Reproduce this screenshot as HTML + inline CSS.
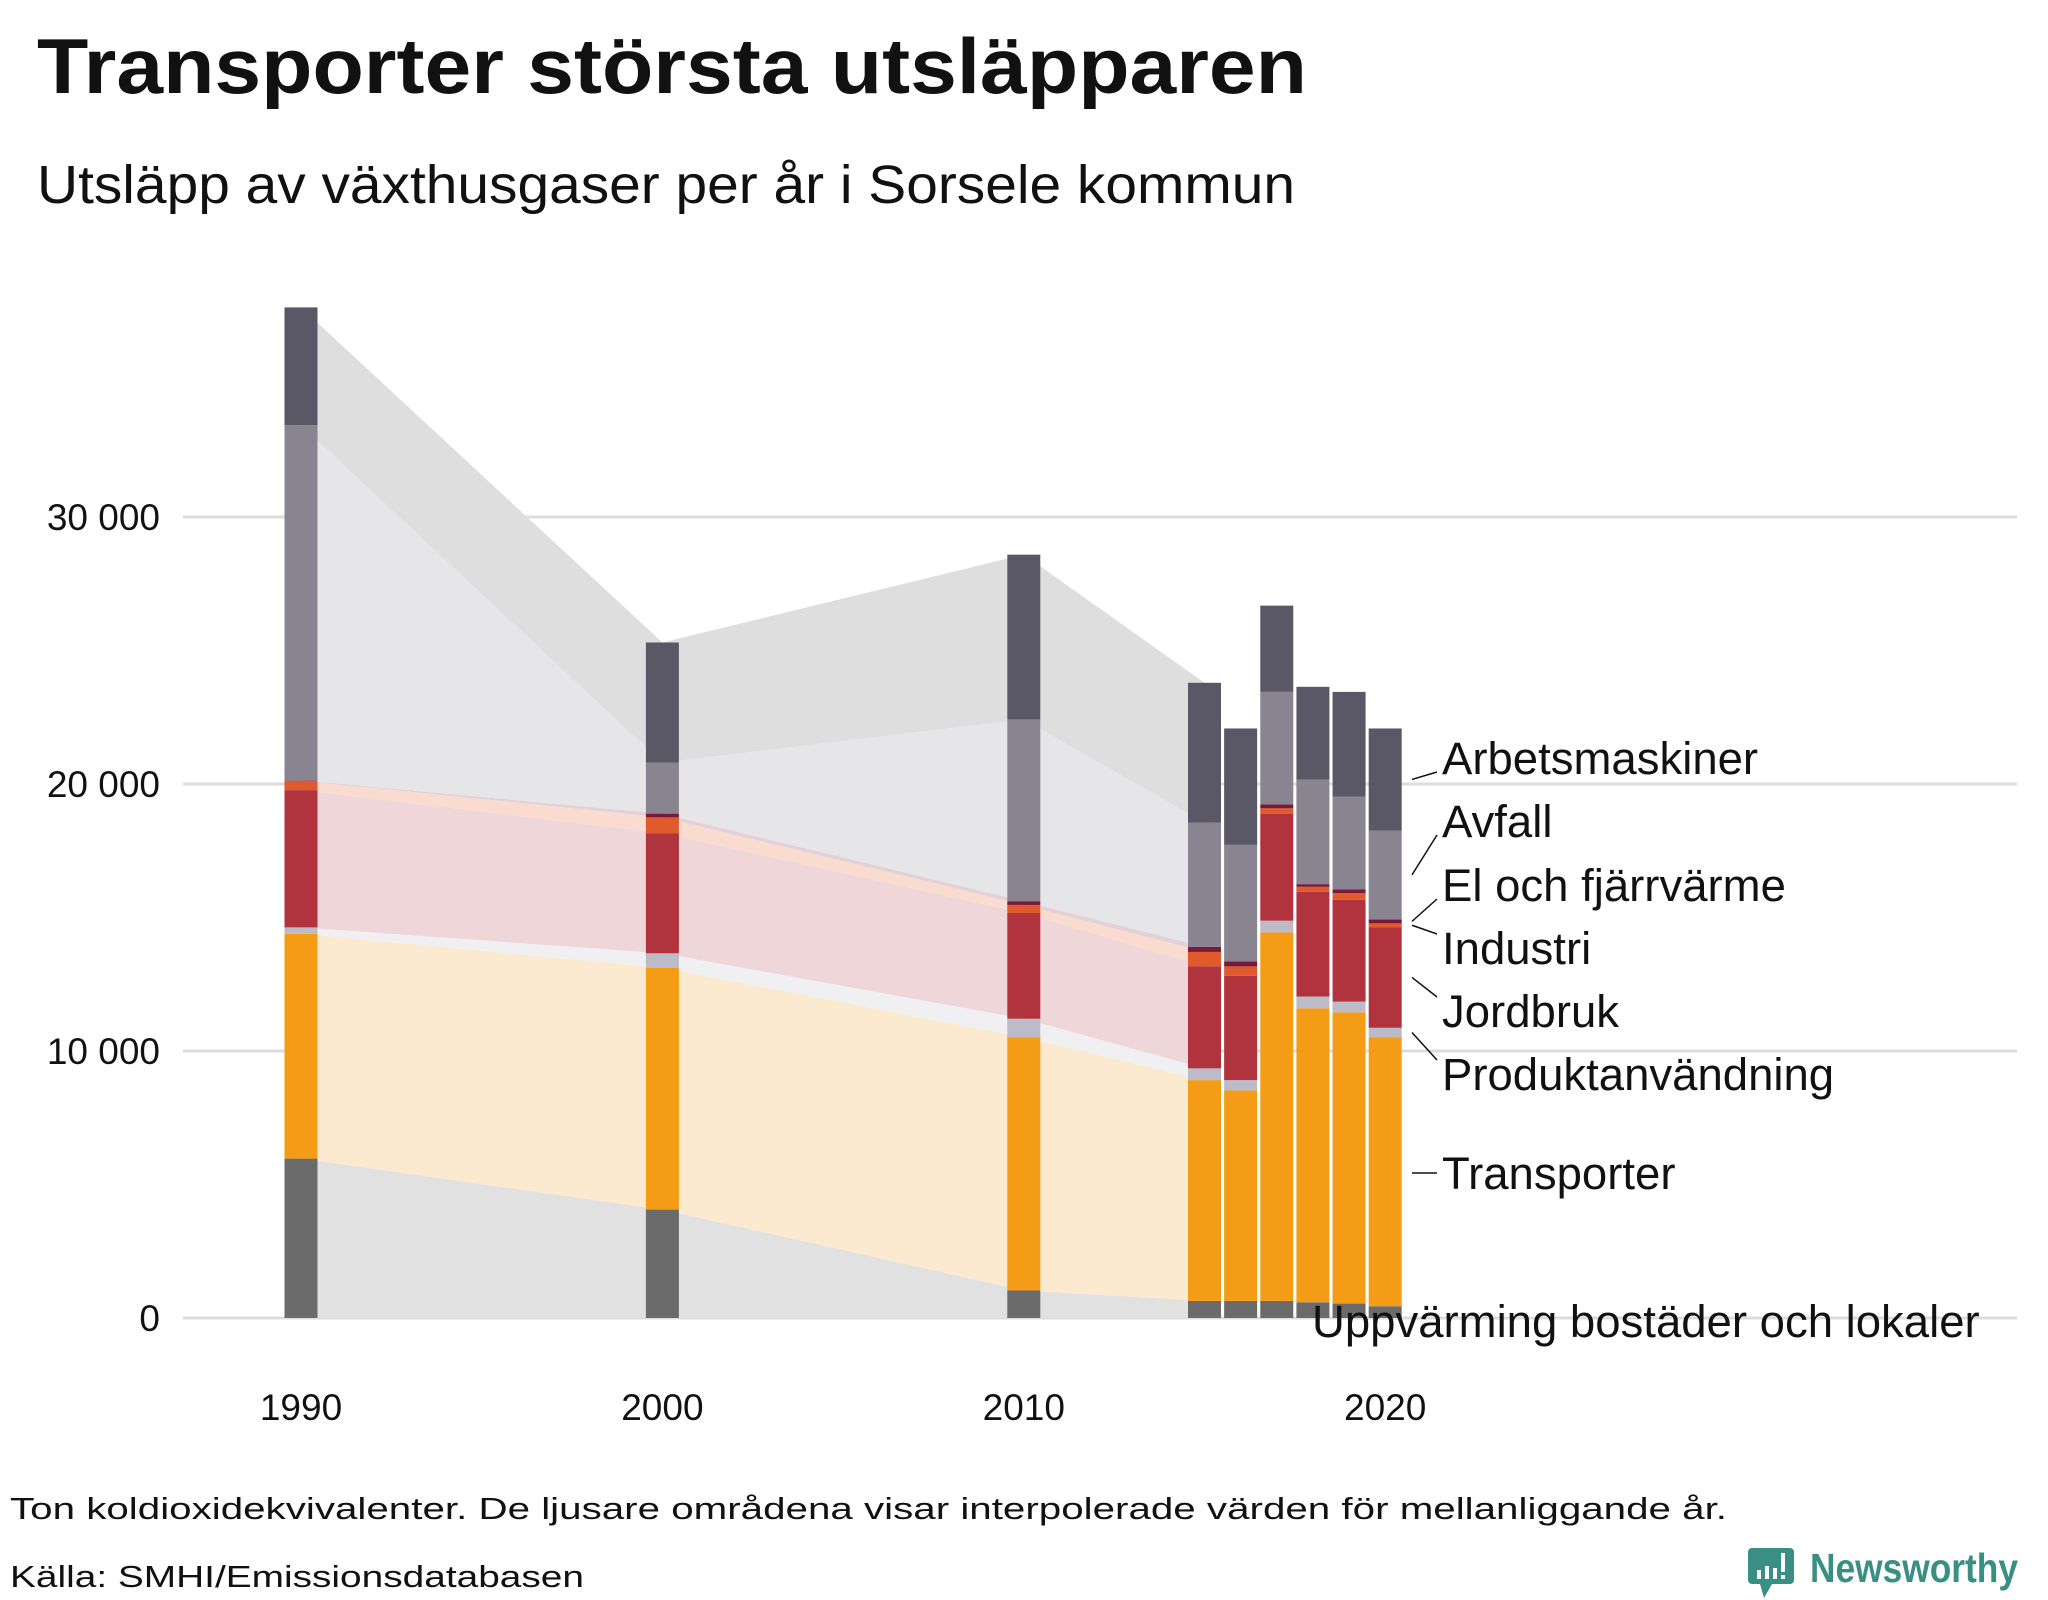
<!DOCTYPE html>
<html><head><meta charset="utf-8"><style>
html,body{margin:0;padding:0;background:#fff;}
svg{display:block;font-family:"Liberation Sans",sans-serif;}
</style></head><body>
<svg id="chart" width="2048" height="1600" viewBox="0 0 2048 1600" xmlns="http://www.w3.org/2000/svg">
<text x="37" y="93" font-size="78" font-weight="bold" fill="#111" textLength="1270" lengthAdjust="spacingAndGlyphs">Transporter största utsläpparen</text>
<text x="37" y="203" font-size="54" fill="#111" textLength="1258" lengthAdjust="spacingAndGlyphs">Utsläpp av växthusgaser per år i Sorsele kommun</text>
<g id="grid"></g><g id="areas"></g><g id="bars"></g><g id="axes"></g><g id="labels"></g>
<text x="10" y="1519" font-size="31" fill="#111" textLength="1717" lengthAdjust="spacingAndGlyphs">Ton koldioxidekvivalenter. De ljusare områdena visar interpolerade värden för mellanliggande år.</text>
<text x="10" y="1587" font-size="31" fill="#111" textLength="574" lengthAdjust="spacingAndGlyphs">Källa: SMHI/Emissionsdatabasen</text>
<g>
<path d="M1752,1548 h38 a4,4 0 0 1 4,4 v28 a4,4 0 0 1 -4,4 h-18 l-8,14 l-4,-14 h-8 a4,4 0 0 1 -4,-4 v-28 a4,4 0 0 1 4,-4 z" fill="#3a8f85"/>
<rect x="1757" y="1570" width="4" height="9" fill="#fff"/><rect x="1765" y="1566" width="4" height="13" fill="#fff"/><rect x="1773" y="1568" width="4" height="11" fill="#fff"/><rect x="1781" y="1553" width="4" height="19" fill="#fff"/><rect x="1781" y="1575" width="4" height="4" fill="#fff"/>
<text x="1810" y="1582" font-size="41" font-weight="bold" fill="#3a8f85" textLength="208" lengthAdjust="spacingAndGlyphs">Newsworthy</text>
</g>
</svg>
<script>
const years = [1990, 2000, 2010, 2015, 2016, 2017, 2018, 2019, 2020];
const uppvarmning = [5970, 4060, 1030, 640, 640, 640, 590, 540, 440];
const transporter = [8420, 9060, 9490, 8270, 7880, 13800, 11010, 10910, 10080];
const produktanvandning = [240, 540, 690, 440, 390, 440, 440, 400, 350];
const jordbruk = [5140, 4500, 3960, 3820, 3910, 4010, 3920, 3810, 3770];
const industri = [350, 590, 300, 540, 350, 200, 190, 250, 140];
const elFjarrvarme = [20, 140, 140, 190, 190, 150, 100, 140, 150];
const avfall = [13300, 1910, 6810, 4650, 4360, 4210, 3920, 3480, 3330];
const arbetsmaskiner = [4410, 4500, 6170, 5240, 4360, 3230, 3470, 3920, 3820];
const seriesNames = ["Uppvärming bostäder och lokaler","Transporter","Produktanvändning","Jordbruk","Industri","El och fjärrvärme","Avfall","Arbetsmaskiner"];
const yTicks = [0, 10000, 20000, 30000];
const yTickLabels = ["0", "10 000", "20 000", "30 000"];
const xTicks = [1990, 2000, 2010, 2020];
const interpolatedYears = [1990, 2000, 2010, 2015];

const series = [uppvarmning, transporter, produktanvandning, jordbruk, industri, elFjarrvarme, avfall, arbetsmaskiner];
const barColors = ["#6b6b6b","#f59c17","#bdbbc8","#b0333d","#e05a2b","#7a1a3a","#888490","#5a5766"];
const areaColors = ["#e1e1e1","#fbead0","#f0eff2","#eed6d9","#fadbd0","#e6d0d8","#e6e6e9","#dededf"];
const slugs = ["uppvarmning","transporter","produktanvandning","jordbruk","industri","el-fjarrvarme","avfall","arbetsmaskiner"];
const NS = "http://www.w3.org/2000/svg";
const x = yr => 301 + (yr - 1990) * 36.14;
const y = v => 1318 - v * 0.0267;
const BW = 33;
function mk(tag, attrs, parent){const e=document.createElementNS(NS,tag);for(const k in attrs)e.setAttribute(k,attrs[k]);parent.appendChild(e);return e;}
const gGrid=document.getElementById('grid'),gAreas=document.getElementById('areas'),gBars=document.getElementById('bars'),gAxes=document.getElementById('axes'),gLab=document.getElementById('labels');
yTicks.forEach((t,i)=>{
  const l=mk('line',{x1:183,x2:2017,y1:y(t),y2:y(t),stroke:'#dcdbe0','stroke-width':3},gGrid);
  
  
  const tx=mk('text',{x:160,y:y(t)+13,'font-size':37,'text-anchor':'end',fill:'#111'},gAxes);
  tx.textContent=yTickLabels[i];
  
  
});
xTicks.forEach(t=>{
  const tx=mk('text',{x:x(t),y:1420,'font-size':37,'text-anchor':'middle',fill:'#111'},gAxes);
  tx.textContent=String(t);
  
  
});
const cum = years.map((_,j)=>{let s=0;return series.map(arr=>{const b=s;s+=arr[j];return [b,s];});});
for(let k=0;k<series.length;k++){
  const idx=interpolatedYears.map(yr=>years.indexOf(yr));
  let top=idx.map(j=>x(years[j])+','+y(cum[j][k][1])).join(' ');
  let bot=idx.slice().reverse().map(j=>x(years[j])+','+y(cum[j][k][0])).join(' ');
  const p=mk('polygon',{points:top+' '+bot,fill:areaColors[k]},gAreas);
  
  
}
years.forEach((yr,j)=>{
  series.forEach((arr,k)=>{
    const [b,t]=cum[j][k];
    const r=mk('rect',{x:x(yr)-BW/2,y:y(t),width:BW,height:Math.max(0,y(b)-y(t)),fill:barColors[k]},gBars);
    
    
  });
});
const labelY=[1321,1173,1074,1011,948,885,821,758];
const last=years.length-1;
series.forEach((arr,k)=>{
  const [b,t]=cum[last][k];
  const mid=y((b+t)/2);
  const lx=k===0?1312:1442;
  if(k>0){
    let y1=mid, y2=labelY[k]+(labelY[k]>mid?-14:(labelY[k]<mid?14:0));
    if(k===1){y1=labelY[k];y2=labelY[k];}
    const ln=mk('line',{x1:1412,y1:y1,x2:1437,y2:y2,stroke:'#111','stroke-width':1.5},gLab);
    
    
  }
  const tx=mk('text',{x:lx,y:labelY[k]+16,'font-size':45.5,fill:'#111'},gLab);
  tx.textContent=seriesNames[k];
  
  
});
</script>
</body></html>
